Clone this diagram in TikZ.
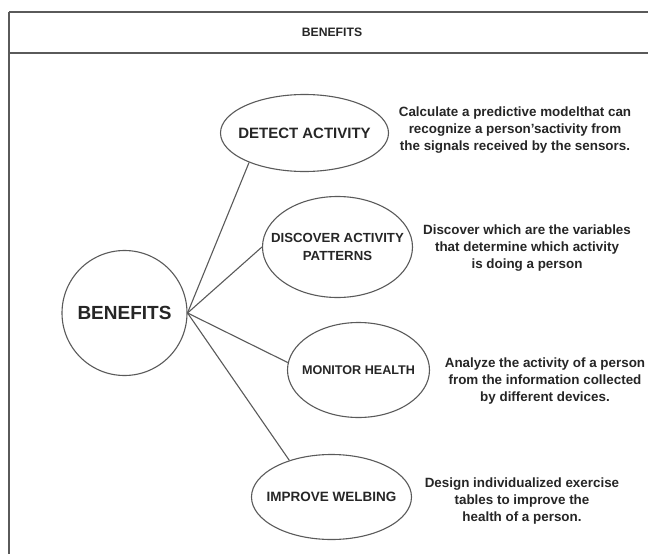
\documentclass[tikz,border=0pt]{standalone}
\usepackage{fontspec}
\setmainfont{Liberation Sans}
\usetikzlibrary{shapes.geometric}
\definecolor{linegray}{HTML}{5A5A5A}
\definecolor{textdark}{HTML}{262626}
\begin{document}
\begin{tikzpicture}[x=1pt,y=-1pt,
  frameline/.style={draw=linegray,line width=1.3pt},
  conn/.style={draw=linegray,line width=1.1pt},
  bubble/.style={ellipse,draw=linegray,line width=1.1pt,inner sep=0pt},
  btext/.style={align=center,text=textdark,inner sep=0pt,font=\fontsize{#1}{17.5}\selectfont\bfseries},
  desc/.style={align=center,text=textdark,font=\fontsize{13.4}{16.8}\selectfont\bfseries,inner sep=0pt}]
\useasboundingbox (0,0) rectangle (648,554);
\fill[white] (0,0) rectangle (648,554);
% frame
\draw[frameline] (9,12) -- (648,12);
\draw[frameline] (9,53) -- (648,53);
\draw[frameline] (9,12) -- (9,554);
\node[text=textdark,font=\fontsize{12.2}{14}\selectfont\bfseries] (title) at (332,32) {BENEFITS};
% central circle
\node[circle,draw=linegray,line width=1.1pt,minimum size=125pt,inner sep=0pt,text=textdark,font=\fontsize{19}{22}\selectfont\bfseries] (ben) at (124.5,313) {BENEFITS};
% branches
\node[bubble,minimum width=168pt,minimum height=77pt,label={[btext=15]center:DETECT ACTIVITY}] (det) at (304.5,133) {};
\node[bubble,minimum width=150pt,minimum height=101pt,label={[btext=13.2]center:DISCOVER ACTIVITY\\PATTERNS}] (dis) at (337.5,247) {};
\node[bubble,minimum width=142pt,minimum height=95pt,label={[btext=12.6]center:MONITOR HEALTH}] (mon) at (358.5,370) {};
\node[bubble,minimum width=160pt,minimum height=85pt,label={[btext=13.5]center:IMPROVE WELBING}] (imp) at (331.5,497) {};
% connectors
\draw[conn] (ben.east) -- (det.208);
\draw[conn] (ben.east) -- (dis.west);
\draw[conn] (ben.east) -- (mon.174);
\draw[conn] (ben.east) -- (imp.139);
% descriptions
\node[desc] (d1) at (515,130) {Calculate a predictive modelthat can\\recognize a person'sactivity from\\the signals received by the sensors.};
\node[desc] (d2) at (527,248) {Discover which are the variables\\that determine which activity\\is doing a person};
\node[desc] (d3) at (545,381) {Analyze the activity of a person\\from the information collected\\by different devices.};
\node[desc] (d4) at (522,501) {Design individualized exercise\\tables to improve the\\health of a person.};
\end{tikzpicture}
\end{document}
